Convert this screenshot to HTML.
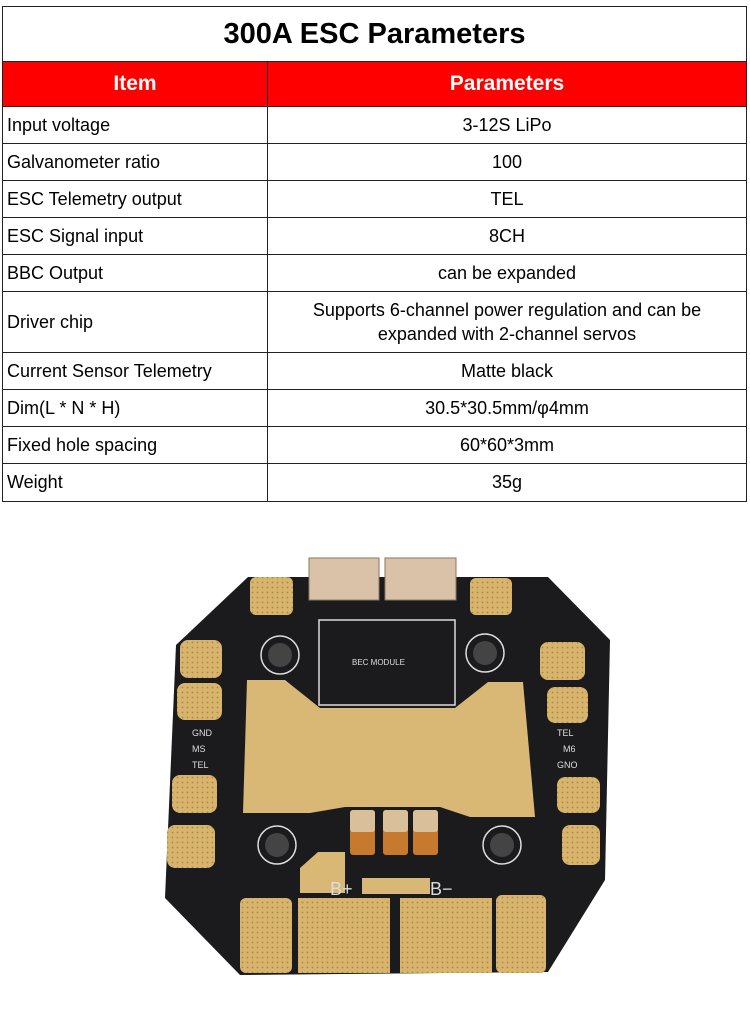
<!DOCTYPE html>
<html><head><meta charset="utf-8"><style>
body{margin:0;width:750px;height:1017px;background:#fff;position:relative;overflow:hidden;font-family:"Liberation Sans",Arial,sans-serif;}
table{position:absolute;left:2px;top:6px;width:745px;border-collapse:collapse;}
td{border:1px solid #222;font-size:18px;color:#000;padding:0;}
td.l{padding-left:4px;width:260px;}
td.r{text-align:center;}
.t{height:54px;font-size:29px;font-weight:bold;text-align:center;}
.h td{background:#f00;color:#fff;font-weight:bold;font-size:21px;text-align:center;height:44px;}
</style></head><body>
<table>
<tr><td colspan="2" class="t">300A ESC Parameters</td></tr>
<tr class="h"><td>Item</td><td>Parameters</td></tr>
<tr style="height:37px"><td class="l">Input voltage</td><td class="r">3-12S LiPo</td></tr>
<tr style="height:37px"><td class="l">Galvanometer ratio</td><td class="r">100</td></tr>
<tr style="height:37px"><td class="l">ESC Telemetry output</td><td class="r">TEL</td></tr>
<tr style="height:37px"><td class="l">ESC Signal input</td><td class="r">8CH</td></tr>
<tr style="height:37px"><td class="l">BBC Output</td><td class="r">can be expanded</td></tr>
<tr style="height:61px"><td class="l">Driver chip</td><td class="r" style="line-height:24px">Supports 6-channel power regulation and can be<br>expanded with 2-channel servos</td></tr>
<tr style="height:37px"><td class="l">Current Sensor Telemetry</td><td class="r">Matte black</td></tr>
<tr style="height:37px"><td class="l">Dim(L * N * H)</td><td class="r">30.5*30.5mm/φ4mm</td></tr>
<tr style="height:37px"><td class="l">Fixed hole spacing</td><td class="r">60*60*3mm</td></tr>
<tr style="height:38px"><td class="l">Weight</td><td class="r">35g</td></tr>
</table>
<svg style="position:absolute;left:0;top:0" width="750" height="1017">
<defs><pattern id="d" width="5" height="5" patternUnits="userSpaceOnUse"><rect width="5" height="5" fill="#d8b46c"/><circle cx="2.5" cy="2.5" r="0.9" fill="#a88a4c"/></pattern></defs>
<polygon points="248,577 548,577 610,640 605,880 548,972 240,975 165,898 176,645" fill="#1b1b1d"/>
<rect x="309" y="558" width="70" height="42" fill="#d9c2a8" stroke="#8b7560"/>
<rect x="385" y="558" width="71" height="42" fill="#d9c2a8" stroke="#8b7560"/>
<rect x="319" y="620" width="136" height="85" fill="none" stroke="#ddd" stroke-width="1.5"/>
<text x="352" y="665" fill="#ddd" font-size="8" font-family="Liberation Sans">BEC  MODULE</text>
<polygon points="247,680 285,680 320,708 455,708 488,682 523,682 535,817 470,817 440,807 345,807 310,813 243,813" fill="#d9b774"/>
<g fill="url(#d)">
<rect x="250" y="577" width="43" height="38" rx="6"/><rect x="470" y="578" width="42" height="37" rx="6"/>
<rect x="180" y="640" width="42" height="38" rx="8"/><rect x="177" y="683" width="45" height="37" rx="8"/>
<rect x="172" y="775" width="45" height="38" rx="8"/><rect x="167" y="825" width="48" height="43" rx="8"/>
<rect x="540" y="642" width="45" height="38" rx="8"/><rect x="547" y="687" width="41" height="36" rx="8"/>
<rect x="557" y="777" width="43" height="36" rx="8"/><rect x="562" y="825" width="38" height="40" rx="8"/>
<rect x="240" y="898" width="52" height="75" rx="6"/><rect x="298" y="898" width="92" height="75"/>
<rect x="400" y="898" width="92" height="75"/><rect x="496" y="895" width="50" height="78" rx="6"/>
</g>
<polygon points="300,893 300,868 318,852 345,852 345,893" fill="#d9b774"/>
<rect x="362" y="878" width="68" height="16" fill="#d9b774"/>
<g fill="none" stroke="#ddd" stroke-width="1.5"><circle cx="280" cy="655" r="19"/><circle cx="485" cy="653" r="19"/><circle cx="277" cy="845" r="19"/><circle cx="502" cy="845" r="19"/></g>
<g fill="#444"><circle cx="280" cy="655" r="12"/><circle cx="485" cy="653" r="12"/><circle cx="277" cy="845" r="12"/><circle cx="502" cy="845" r="12"/></g>
<g fill="#c77a2e"><rect x="350" y="810" width="25" height="45" rx="3"/><rect x="383" y="810" width="25" height="45" rx="3"/><rect x="413" y="810" width="25" height="45" rx="3"/></g>
<g fill="#d9c09a"><rect x="350" y="810" width="25" height="22" rx="3"/><rect x="383" y="810" width="25" height="22" rx="3"/><rect x="413" y="810" width="25" height="22" rx="3"/></g>
<g fill="#ddd" font-size="9" font-family="Liberation Sans"><text x="192" y="736">GND</text><text x="192" y="752">MS</text><text x="192" y="768">TEL</text><text x="557" y="736">TEL</text><text x="563" y="752">M6</text><text x="557" y="768">GNO</text></g>
<g fill="#ddd" font-size="18" font-family="Liberation Sans"><text x="330" y="895">B+</text><text x="430" y="895">B−</text></g>
</svg>
</body></html>
